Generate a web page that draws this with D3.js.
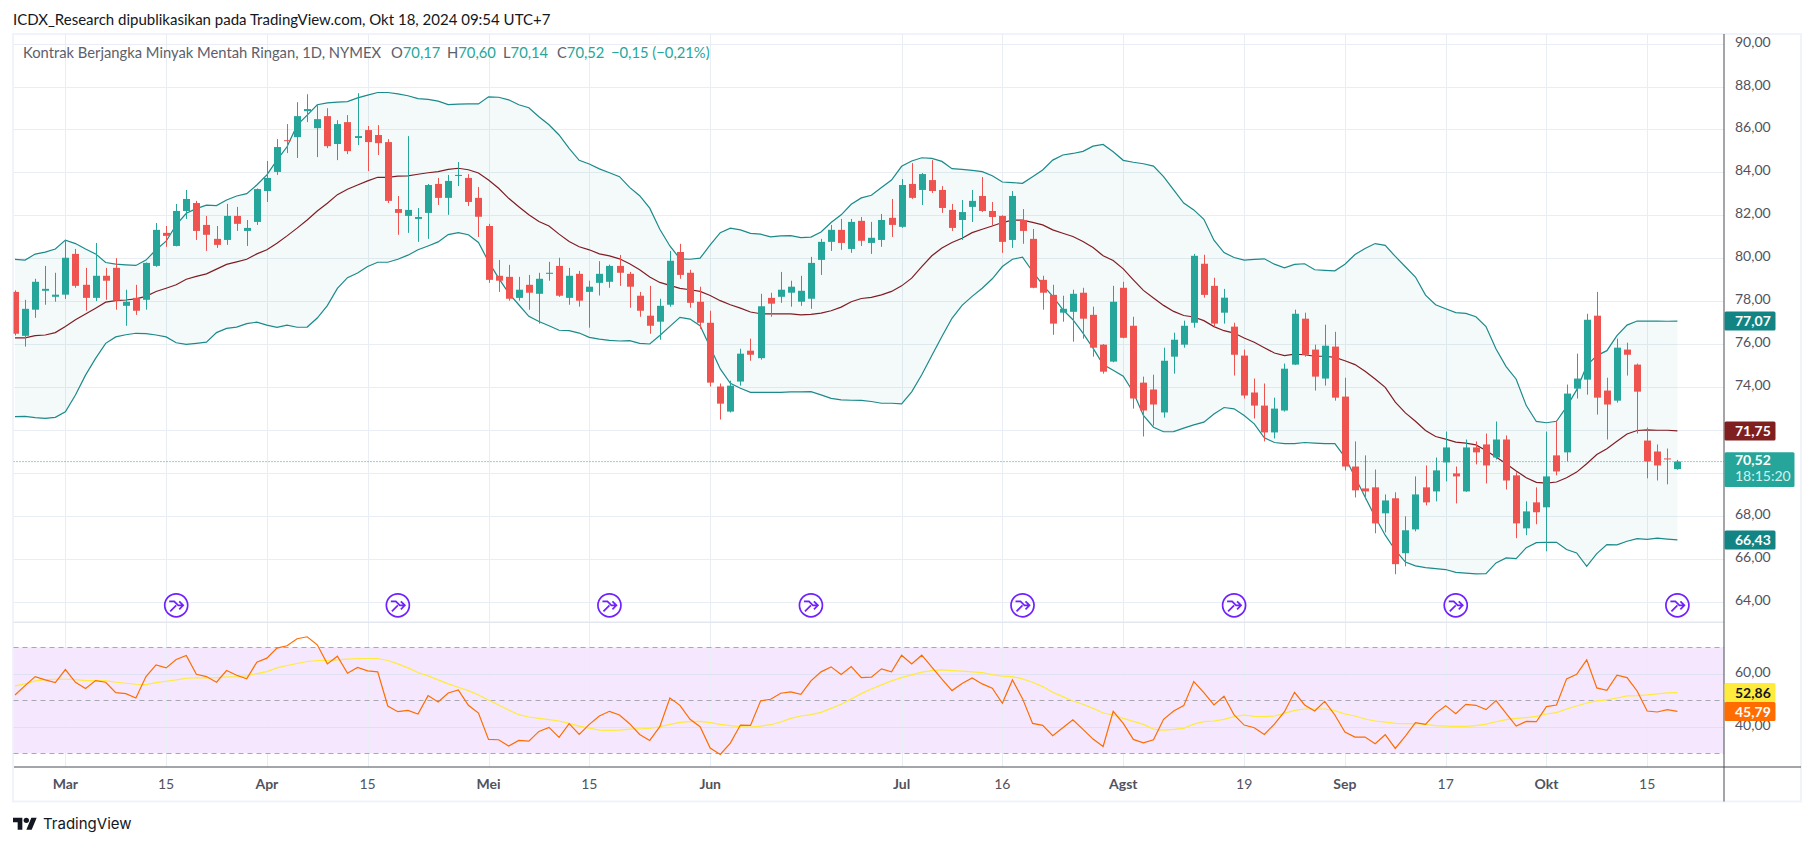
<!DOCTYPE html>
<html lang="id">
<head>
<meta charset="UTF-8">
<title>Kontrak Berjangka Minyak Mentah Ringan</title>
<script src="https://d3js.org/d3.v7.min.js"></script>
<style>
    html, body { margin: 0; background: #fff; }
    svg { display: block; }
    text { font-family: "Lato", "Noto Sans", sans-serif; }
</style>
</head>
<body>
<svg id="chart" width="1814" height="846"></svg>
<script>
// ---------------- data, one entry per daily bar ----------------
var opens = [
    78.43, 76.38, 77.6, 78.48, 78.2, 78.3, 80.2, 78.76, 78.15, 79.18,
    79.55, 77.78, 78.15, 78.06, 79.64, 81.18, 80.57, 82.2, 82.57, 81.55,
    80.9, 80.85, 81.97, 81.27, 81.69, 83.13, 84.02, 85.5, 85.64, 86.85,
    86.06, 86.62, 85.32, 86.34, 85.6, 85.97, 85.74, 85.41, 82.29, 81.97,
    81.83, 82.11, 83.46, 82.81, 83.83, 83.74, 82.81, 81.5, 79.18, 79.13,
    78.15, 78.76, 78.34, 79.27, 79.64, 78.15, 79.27, 78.43, 78.85, 78.9,
    79.64, 79.27, 78.25, 77.32, 77.04, 77.83, 80.29, 79.32, 77.97, 76.99,
    74.02, 72.85, 74.25, 75.69, 75.34, 78.15, 78.2, 78.39, 77.97, 78.11,
    79.92, 80.76, 81.32, 80.43, 81.74, 80.71, 80.85, 81.88, 81.46, 83.46,
    83.18, 83.64, 83.18, 82.25, 81.78, 82.39, 82.9, 82.2, 81.97, 80.85,
    81.78, 80.9, 78.99, 78.29, 77.46, 77.5, 78.39, 77.36, 75.97, 75.18,
    78.62, 76.85, 74.2, 73.88, 72.81, 75.41, 75.97, 76.99, 79.74, 78.71,
    77.46, 76.81, 75.46, 73.74, 73.13, 71.88, 72.9, 75.04, 77.18, 75.74,
    74.39, 75.88, 73.55, 70.29, 69.27, 69.32, 68.11, 68.81, 66.25, 67.36,
    69.32, 69.13, 70.48, 69.97, 69.13, 71.18, 71.32, 70.71, 71.55, 69.88,
    67.41, 68.62, 68.39, 70.81, 70.95, 73.92, 74.34, 77.32, 73.83, 73.36,
    75.74, 75.04, 71.5, 70.99, 70.67, 70.17
];
var closes = [
    76.48, 77.64, 78.9, 78.57, 78.3, 80.02, 78.71, 78.15, 79.18, 78.95,
    78.02, 77.97, 77.55, 79.78, 81.32, 81.04, 82.2, 82.76, 81.27, 81.09,
    80.62, 81.97, 81.6, 81.41, 83.22, 83.74, 85.18, 85.46, 86.62, 86.95,
    86.48, 85.22, 86.25, 84.99, 85.69, 85.41, 85.36, 82.67, 82.11, 82.25,
    81.92, 83.41, 82.81, 83.6, 83.88, 82.62, 81.93, 78.99, 78.95, 78.11,
    78.53, 78.39, 79.04, 79.32, 78.25, 79.18, 78.02, 78.67, 79.27, 79.64,
    79.32, 78.67, 77.55, 76.85, 77.78, 79.88, 79.22, 77.92, 76.99, 74.2,
    73.22, 74.06, 75.55, 75.5, 77.76, 77.88, 78.53, 78.67, 78.48, 79.78,
    80.76, 81.32, 80.71, 81.69, 80.81, 80.95, 81.78, 81.55, 83.41, 82.81,
    83.92, 83.13, 82.34, 81.41, 82.15, 82.67, 82.2, 81.92, 80.76, 82.9,
    81.27, 78.62, 78.39, 76.95, 77.64, 78.34, 77.18, 75.83, 74.71, 77.97,
    76.29, 73.46, 72.9, 73.18, 75.22, 76.2, 76.85, 80.11, 78.29, 76.95,
    78.16, 75.5, 73.6, 73.13, 71.88, 72.99, 74.85, 77.41, 75.5, 74.48,
    75.92, 73.5, 70.29, 69.18, 69.13, 67.64, 68.71, 65.74, 67.32, 68.99,
    68.62, 70.11, 71.18, 69.83, 71.18, 70.95, 70.34, 71.55, 69.64, 67.64,
    68.2, 68.16, 69.83, 70.06, 73.69, 74.39, 77.13, 73.5, 73.18, 75.83,
    75.5, 73.78, 70.53, 70.34, 70.62, 70.52
];
var highs = [
    78.5, 78.06, 79.04, 79.64, 79.32, 80.85, 80.43, 79.55, 80.71, 79.55,
    80.0, 78.53, 78.76, 79.8, 81.64, 81.5, 82.53, 83.18, 82.67, 81.97,
    81.5, 82.53, 82.39, 81.78, 83.25, 84.53, 85.55, 86.25, 87.27, 87.64,
    87.13, 86.99, 86.43, 86.67, 87.69, 86.16, 86.2, 85.55, 82.9, 85.69,
    82.34, 83.46, 83.74, 83.88, 84.48, 83.92, 83.32, 81.6, 79.92, 79.69,
    79.13, 79.22, 79.32, 79.83, 80.02, 79.55, 79.41, 78.95, 79.86, 79.7,
    80.15, 79.36, 78.43, 78.71, 78.11, 80.34, 80.67, 79.46, 78.67, 77.55,
    74.16, 74.29, 75.78, 76.25, 78.34, 78.39, 79.36, 78.95, 79.18, 80.06,
    80.9, 81.55, 81.83, 81.83, 81.92, 81.69, 82.06, 82.76, 83.69, 84.43,
    83.97, 84.57, 83.36, 82.53, 82.71, 83.18, 83.78, 82.62, 82.0, 83.13,
    82.29, 81.36, 79.18, 78.76, 78.25, 78.53, 78.62, 77.74, 76.0, 78.71,
    78.9, 77.27, 74.48, 74.57, 75.83, 76.53, 77.09, 80.2, 80.16, 79.09,
    78.57, 76.99, 75.74, 74.39, 74.16, 73.5, 75.09, 77.6, 77.46, 75.97,
    76.9, 76.57, 74.43, 71.46, 70.81, 70.15, 68.99, 69.09, 67.97, 69.83,
    70.34, 70.71, 71.92, 70.29, 71.55, 71.46, 71.83, 72.39, 71.74, 70.02,
    68.67, 69.32, 71.92, 72.43, 74.11, 75.55, 77.41, 78.43, 74.43, 76.25,
    76.06, 75.09, 72.11, 71.32, 71.13, 70.6
];
var lows = [
    76.4, 75.88, 77.22, 77.83, 77.97, 78.1, 78.62, 77.55, 78.0, 78.06,
    77.6, 76.85, 77.36, 77.6, 79.6, 80.53, 80.55, 81.83, 80.85, 80.34,
    80.48, 80.62, 81.27, 80.57, 81.55, 82.62, 83.88, 84.9, 84.67, 86.34,
    84.71, 85.13, 84.57, 84.85, 85.27, 84.06, 84.81, 82.57, 81.09, 81.18,
    80.76, 80.9, 82.48, 82.02, 83.36, 82.43, 80.99, 78.85, 78.43, 78.02,
    78.02, 77.6, 76.95, 78.95, 78.2, 77.83, 77.74, 76.76, 78.26, 78.62,
    78.71, 77.69, 77.27, 76.48, 76.2, 77.74, 79.04, 77.69, 76.71, 74.02,
    72.48, 72.81, 74.06, 75.22, 75.27, 77.27, 77.92, 77.74, 77.78, 77.64,
    79.22, 80.34, 80.39, 80.25, 80.57, 80.2, 80.53, 80.99, 81.41, 82.76,
    82.48, 83.04, 82.11, 81.27, 80.85, 81.69, 82.15, 81.5, 80.25, 80.48,
    80.67, 78.6, 77.6, 76.43, 77.04, 76.11, 76.25, 75.41, 74.62, 75.15,
    76.27, 72.99, 71.69, 72.2, 72.57, 74.62, 75.83, 76.76, 78.16, 76.81,
    76.95, 74.53, 73.46, 72.53, 71.46, 71.6, 72.85, 75.02, 75.41, 73.83,
    74.06, 73.36, 70.11, 68.85, 68.76, 67.18, 67.22, 65.27, 65.64, 67.27,
    68.48, 68.67, 69.6, 68.57, 69.11, 70.39, 69.5, 70.62, 69.22, 66.95,
    67.09, 67.6, 66.34, 69.88, 70.53, 73.46, 73.64, 72.71, 71.55, 73.27,
    74.53, 71.83, 69.74, 69.64, 69.46, 70.14
];
var bbUpper = [
    79.94, 79.91, 80.19, 80.28, 80.43, 80.84, 80.68, 80.43, 80.2, 79.8,
    79.72, 79.69, 79.66, 79.91, 80.39, 80.79, 81.55, 82.09, 82.31, 82.47,
    82.45, 82.71, 82.9, 83.01, 83.41, 83.88, 84.57, 85.19, 86.2, 86.67,
    87.15, 87.24, 87.27, 87.3, 87.47, 87.6, 87.72, 87.72, 87.66, 87.57,
    87.44, 87.4, 87.32, 87.16, 87.18, 87.19, 87.19, 87.52, 87.5, 87.38,
    87.15, 87.01, 86.59, 86.22, 85.74, 85.12, 84.56, 84.39, 84.16, 83.98,
    83.8, 83.3, 82.91, 82.33, 81.35, 80.57, 79.97, 79.95, 80.0, 80.62,
    81.19, 81.4, 81.32, 81.16, 81.12, 80.99, 81.04, 81.05, 80.96, 80.98,
    81.22, 81.66, 82.02, 82.51, 82.81, 82.93, 83.29, 83.64, 84.28, 84.53,
    84.68, 84.65, 84.51, 84.17, 84.14, 84.09, 84.03, 83.84, 83.55, 83.52,
    83.49, 83.8, 84.11, 84.57, 84.81, 84.88, 84.98, 85.22, 85.3, 84.96,
    84.56, 84.47, 84.4, 84.29, 83.8, 83.18, 82.57, 82.25, 81.81, 80.84,
    80.26, 80.03, 79.91, 79.94, 79.97, 79.72, 79.55, 79.71, 79.74, 79.46,
    79.43, 79.41, 79.72, 80.17, 80.45, 80.68, 80.6, 80.08, 79.6, 79.12,
    78.28, 77.83, 77.64, 77.46, 77.43, 77.27, 76.81, 75.77, 74.95, 74.36,
    73.13, 72.39, 72.33, 72.4, 73.07, 73.86, 74.99, 75.46, 75.69, 76.39,
    76.88, 77.07, 77.07, 77.07, 77.06, 77.07
];
var bbBasis = [
    76.29, 76.29, 76.39, 76.42, 76.53, 76.82, 77.13, 77.4, 77.67, 77.95,
    78.02, 78.05, 78.1, 78.22, 78.45, 78.6, 78.76, 79.02, 79.15, 79.27,
    79.49, 79.71, 79.83, 79.95, 80.2, 80.39, 80.7, 81.04, 81.4, 81.78,
    82.2, 82.56, 82.96, 83.21, 83.41, 83.6, 83.77, 83.77, 83.82, 83.84,
    83.91, 83.98, 84.03, 84.14, 84.19, 84.12, 83.97, 83.64, 83.26, 82.79,
    82.4, 82.02, 81.71, 81.5, 81.12, 80.78, 80.53, 80.39, 80.2, 80.11,
    79.97, 79.74, 79.46, 79.12, 78.87, 78.73, 78.59, 78.53, 78.45, 78.26,
    78.02, 77.83, 77.67, 77.49, 77.41, 77.4, 77.41, 77.4, 77.36, 77.38,
    77.44, 77.55, 77.72, 77.97, 78.12, 78.17, 78.29, 78.45, 78.71, 79.07,
    79.61, 80.11, 80.47, 80.73, 80.93, 81.19, 81.35, 81.5, 81.66, 81.77,
    81.77, 81.67, 81.55, 81.32, 81.16, 81.01, 80.78, 80.5, 80.11, 79.89,
    79.5, 78.99, 78.5, 78.14, 77.8, 77.52, 77.33, 77.26, 77.09, 76.81,
    76.62, 76.51, 76.28, 76.08, 75.83, 75.58, 75.46, 75.53, 75.5, 75.43,
    75.43, 75.38, 75.22, 75.04, 74.73, 74.37, 73.98, 73.29, 72.79, 72.4,
    71.97, 71.69, 71.57, 71.43, 71.38, 71.3, 71.04, 70.73, 70.42, 70.08,
    69.77, 69.55, 69.52, 69.57, 69.77, 70.03, 70.42, 70.85, 71.12, 71.47,
    71.81, 71.97, 72.0, 71.98, 71.98, 71.95
];
var bbLower = [
    72.62, 72.63, 72.57, 72.53, 72.58, 72.84, 73.62, 74.55, 75.33, 76.03,
    76.33, 76.43, 76.5, 76.48, 76.42, 76.33, 76.06, 75.98, 76.03, 76.09,
    76.53, 76.73, 76.79, 76.95, 77.02, 76.88, 76.78, 76.88, 76.78, 76.79,
    77.21, 77.79, 78.59, 79.09, 79.31, 79.61, 79.81, 79.81, 79.95, 80.14,
    80.39, 80.57, 80.76, 81.1, 81.19, 81.09, 80.73, 79.84, 79.07, 78.37,
    77.83, 77.29, 77.05, 76.85, 76.64, 76.62, 76.51, 76.31, 76.23, 76.17,
    76.14, 76.16, 76.03, 76.0, 76.4, 76.82, 77.24, 77.16, 76.85, 75.85,
    74.84, 74.17, 73.94, 73.75, 73.75, 73.75, 73.75, 73.77, 73.77, 73.78,
    73.63, 73.47, 73.4, 73.38, 73.37, 73.32, 73.24, 73.24, 73.21, 73.77,
    74.57, 75.46, 76.35, 77.2, 77.8, 78.22, 78.6, 79.04, 79.61, 79.95,
    80.05, 79.38, 78.76, 78.22, 77.6, 77.13, 76.51, 75.81, 75.04, 74.78,
    74.5, 73.75, 72.67, 72.12, 71.91, 71.92, 72.08, 72.23, 72.36, 72.74,
    73.04, 72.98, 72.67, 72.28, 71.63, 71.41, 71.36, 71.36, 71.41, 71.38,
    71.36, 71.36, 70.73, 69.8, 68.87, 67.94, 67.09, 66.39, 65.84, 65.66,
    65.58, 65.53, 65.49, 65.36, 65.32, 65.29, 65.3, 65.8, 66.03, 66.0,
    66.51, 66.74, 66.76, 66.76, 66.42, 66.26, 65.64, 66.23, 66.65, 66.64,
    66.81, 66.93, 66.9, 66.95, 66.91, 66.87
];
var rsi = [
    52.02, 55.55, 58.96, 57.7, 56.69, 61.61, 56.81, 54.42, 57.44, 56.81,
    52.9, 52.52, 50.88, 58.96, 63.38, 62.24, 65.39, 66.91, 59.84, 58.96,
    56.81, 61.23, 59.46, 58.08, 64.38, 65.9, 69.68, 70.57, 73.22, 73.97,
    70.95, 63.75, 66.66, 60.22, 62.37, 61.1, 60.73, 47.85, 45.71, 46.21,
    44.83, 51.77, 49.37, 52.78, 53.91, 48.11, 45.2, 35.24, 35.11, 32.71,
    34.86, 34.61, 38.26, 39.78, 35.99, 41.17, 37.13, 40.91, 44.07, 45.84,
    44.45, 41.17, 37.13, 34.86, 40.03, 50.88, 48.11, 42.81, 40.03, 31.96,
    29.56, 33.85, 40.66, 40.54, 49.75, 50.38, 52.65, 53.15, 52.27, 57.32,
    60.73, 62.62, 59.72, 62.74, 58.58, 58.71, 61.86, 60.73, 67.03, 63.75,
    67.03, 62.49, 57.95, 53.66, 56.31, 58.45, 56.18, 54.54, 48.86, 57.7,
    50.63, 41.29, 40.54, 36.62, 39.65, 42.68, 39.02, 35.36, 32.59, 45.84,
    41.29, 35.24, 33.97, 35.11, 42.81, 45.96, 47.98, 57.07, 52.9, 48.23,
    51.51, 44.45, 40.66, 39.65, 37.13, 41.04, 45.71, 53.03, 48.23, 45.96,
    49.62, 44.45, 38.01, 36.12, 36.12, 33.6, 37.0, 31.83, 36.5, 41.55,
    40.91, 45.08, 47.98, 44.95, 48.49, 48.11, 46.47, 49.87, 45.08, 40.28,
    42.05, 41.92, 47.6, 48.23, 58.08, 59.84, 65.27, 54.67, 53.79, 59.46,
    58.58, 53.53, 45.96, 45.58, 46.47, 45.79
];
var rsiMa = [
    55.43, 56.18, 57.32, 57.82, 57.95, 57.95, 57.82, 57.44, 57.44, 57.44,
    56.81, 56.44, 56.06, 55.93, 56.69, 57.19, 57.7, 58.33, 58.45, 58.45,
    58.58, 58.83, 58.96, 59.21, 60.09, 60.85, 62.24, 63.12, 63.88, 64.64,
    65.02, 65.02, 65.27, 65.52, 65.77, 65.77, 65.77, 65.02, 63.75, 62.24,
    60.47, 59.21, 57.7, 56.18, 54.92, 53.66, 52.02, 50.13, 48.23, 46.34,
    44.57, 43.69, 43.19, 42.68, 42.18, 41.29, 40.28, 39.53, 38.77, 38.64,
    38.77, 39.15, 39.27, 39.4, 40.03, 40.91, 41.67, 41.92, 42.05, 41.55,
    40.91, 40.41, 40.03, 39.91, 40.28, 40.79, 41.8, 43.19, 44.07, 44.57,
    45.46, 46.97, 48.49, 50.5, 52.52, 54.29, 55.8, 57.32, 58.58, 59.59,
    60.6, 61.23, 61.48, 61.23, 60.98, 60.73, 60.47, 59.72, 59.09, 58.96,
    58.08, 56.81, 55.17, 53.03, 51.39, 49.75, 48.49, 46.97, 45.2, 44.45,
    43.19, 42.05, 40.91, 39.15, 38.77, 39.02, 39.4, 41.04, 41.92, 42.18,
    42.81, 43.82, 44.45, 43.94, 43.82, 44.07, 45.08, 46.21, 46.72, 46.72,
    46.72, 46.09, 44.83, 44.07, 42.93, 42.18, 41.8, 41.29, 41.17, 41.17,
    40.91, 40.41, 40.28, 40.16, 40.16, 40.41, 41.04, 41.92, 42.68, 43.19,
    43.44, 43.94, 44.83, 45.33, 46.72, 47.85, 48.99, 49.75, 50.13, 50.88,
    51.64, 51.77, 52.02, 52.4, 52.78, 52.86
];

var timeTickBars = [5, 15, 25, 35, 47, 57, 69, 88, 98, 110, 122, 132, 142, 152, 162];
var timeTickLabels = ["Mar", "15", "Apr", "15", "Mei", "15", "Jun", "Jul", "16", "Agst", "19", "Sep", "17", "Okt", "15"];
var monthLabels = ["Mar", "Apr", "Mei", "Jun", "Jul", "Agst", "Sep", "Okt"];
var priceTicks = [90, 88, 86, 84, 82, 80, 78, 76, 74, 72, 70, 68, 66, 64];
var priceLabelTicks = [90, 88, 86, 84, 82, 80, 78, 76, 74, 68, 66, 64]; // 72 and 70 sit under the tags
var rsiGridTicks = [60, 40];
var rsiDashTicks = [70, 50, 30];
var rolloverBars = [16, 38, 59, 79, 100, 121, 143, 165];

// ---------------- layout ----------------
var W = 1814, H = 846;
var axisX = 1724, timeY = 767, paneSplit = 622.3;
var left = 13.5, frameRight = 1801, frameTop = 34, frameBottom = 801.5;

var up = "#26a69a", down = "#ef5350", bandCol = "#1b8a8a", basisCol = "#801d24";
var gridCol = "#e8eef3", labelCol = "#50535e";

var svg = d3.select("#chart");
var ru = d => d.toFixed(2).replace(".", ",");

// scales: one bar every 10 px or so, both panes share x
var x = d3.scaleLinear().domain([0, 165]).range([15, 1677.4]);
var y = d3.scaleLinear().domain([64, 90]).range([601.5, 43.6]);
var yR = d3.scaleLinear().domain([30, 70]).range([753.3, 647.3]);

svg.append("clipPath").attr("id", "mainClip").append("rect")
    .attr("x", left).attr("y", frameTop).attr("width", axisX - left).attr("height", paneSplit - frameTop);
svg.append("clipPath").attr("id", "rsiClip").append("rect")
    .attr("x", left).attr("y", paneSplit).attr("width", axisX - left).attr("height", timeY - paneSplit);

// frame
svg.append("rect").attr("x", 13).attr("y", frameTop).attr("width", frameRight - 13).attr("height", frameBottom - frameTop)
    .attr("fill", "none").attr("stroke", "#f0f3fa").attr("stroke-width", 2);

// ---------------- RSI band goes below the grid ----------------
svg.append("rect").attr("x", left).attr("width", axisX - left)
    .attr("y", yR(70)).attr("height", yR(30) - yR(70)).attr("fill", "#f5e7fd");

// ---------------- grid ----------------
var grid = svg.append("g").attr("stroke", gridCol).attr("stroke-width", 1);
grid.selectAll(".v").data(timeTickBars).join("line")
    .attr("x1", d => Math.round(x(d)) + .5).attr("x2", d => Math.round(x(d)) + .5)
    .attr("y1", frameTop).attr("y2", timeY);
grid.selectAll(".h").data(priceTicks).join("line")
    .attr("x1", left).attr("x2", axisX)
    .attr("y1", d => Math.round(y(d)) + .5).attr("y2", d => Math.round(y(d)) + .5);
grid.selectAll(".r").data(rsiGridTicks).join("line")
    .attr("x1", left).attr("x2", axisX).attr("stroke", "#e0e0f3")
    .attr("y1", d => Math.round(yR(d)) + .5).attr("y2", d => Math.round(yR(d)) + .5);
svg.append("line").attr("x1", left).attr("x2", axisX).attr("y1", paneSplit).attr("y2", paneSplit)
    .attr("stroke", "#e4e7ee").attr("stroke-width", 1.5);

svg.selectAll(".dash").data(rsiDashTicks).join("line")
    .attr("x1", left).attr("x2", axisX)
    .attr("y1", d => Math.round(yR(d)) + .5).attr("y2", d => Math.round(yR(d)) + .5)
    .attr("stroke", "#a8a8b2").attr("stroke-width", 1).attr("stroke-dasharray", "5,4");

// ---------------- main pane ----------------
var main = svg.append("g").attr("clip-path", "url(#mainClip)");
var bars = d3.range(closes.length);

// bollinger fill starts at the pane edge
main.append("path")
    .attr("d", d3.area().x(i => x(i)).y0(i => y(bbLower[i])).y1(i => y(bbUpper[i]))(bars))
    .attr("fill", "#26a69a").attr("fill-opacity", 0.05);

// price line
main.append("line").attr("x1", left).attr("x2", axisX)
    .attr("y1", y(closes[165])).attr("y2", y(closes[165]))
    .attr("stroke", up).attr("stroke-width", 1).attr("stroke-dasharray", "1,2");

function drawLine(parent, scaleY, vals, col, w) {
    parent.append("path")
        .attr("d", d3.line().x((d, i) => x(i)).y(d => scaleY(d))(vals))
        .attr("fill", "none").attr("stroke", col).attr("stroke-width", w);
}
drawLine(main, y, bbUpper, bandCol, 1.2);
drawLine(main, y, bbLower, bandCol, 1.2);
drawLine(main, y, bbBasis, basisCol, 1.2);

// candles
var candle = main.selectAll(".candle").data(bars).join("g")
    .attr("fill", i => closes[i] >= opens[i] ? up : down);
candle.append("rect")
    .attr("x", i => Math.round(x(i))).attr("width", 1)
    .attr("y", i => y(highs[i])).attr("height", i => y(lows[i]) - y(highs[i]));
candle.append("rect")
    .attr("x", i => Math.round(x(i)) - 3).attr("width", 7)
    .attr("y", i => y(Math.max(opens[i], closes[i])))
    .attr("height", i => Math.max(1, Math.abs(y(opens[i]) - y(closes[i]))));

// rollover markers
var roll = main.selectAll(".roll").data(rolloverBars).join("g")
    .attr("transform", d => "translate(" + x(d) + ",605.3)")
    .attr("fill", "none").attr("stroke", "#6f22ff").attr("stroke-width", 1.7);
roll.append("circle").attr("r", 11.5);
roll.append("path").attr("d", "M-7,-4 L-2,-4 L2,0 L7,0 M3,-4 L7,0 L3,4 M-6,6 L0,0");

// ---------------- RSI pane ----------------
var pane = svg.append("g").attr("clip-path", "url(#rsiClip)");
drawLine(pane, yR, rsiMa, "#ffeb3b", 1.2);
drawLine(pane, yR, rsi, "#ff6d00", 1.2);

// ---------------- axes ----------------
svg.append("line").attr("x1", 14).attr("x2", frameRight).attr("y1", timeY).attr("y2", timeY)
    .attr("stroke", "#4a4c55").attr("stroke-width", 1);
svg.append("line").attr("x1", axisX).attr("x2", axisX).attr("y1", frameTop).attr("y2", frameBottom)
    .attr("stroke", "#4a4c55").attr("stroke-width", 1);

svg.selectAll(".tl").data(timeTickBars).join("text")
    .attr("x", d => x(d)).attr("y", 789).attr("text-anchor", "middle")
    .attr("font-size", 14).attr("fill", labelCol)
    .attr("font-weight", (d, i) => monthLabels.includes(timeTickLabels[i]) ? 700 : 400)
    .text((d, i) => timeTickLabels[i]);

svg.selectAll(".pl").data(priceLabelTicks).join("text")
    .attr("x", 1735).attr("y", d => y(d) + 3).attr("font-size", 14).attr("fill", labelCol)
    .text(d => ru(d));
svg.selectAll(".rl").data(rsiGridTicks).join("text")
    .attr("x", 1735).attr("y", d => yR(d) + 3).attr("font-size", 14).attr("fill", labelCol)
    .text(d => ru(d));

// value tags on the price scale
function tag(cy, label, bg, fg) {
    svg.append("rect").attr("x", axisX + .5).attr("y", cy - 9.5).attr("width", 51).attr("height", 19).attr("rx", 1.5).attr("fill", bg);
    svg.append("text").attr("x", 1735).attr("y", cy + 5).attr("font-size", 14).attr("font-weight", 700).attr("fill", fg).text(label);
}
var bandTagLabels = ["77,07", "71,75", "66,43"];
var rsiTagLabels = ["52,86", "45,79"];
tag(y(bbUpper[165]), bandTagLabels[0], "#138484", "#fff");
tag(y(bbBasis[165]), bandTagLabels[1], "#801f1f", "#fff");
tag(y(bbLower[165]), bandTagLabels[2], "#138484", "#fff");
tag(692.5, rsiTagLabels[0], "#ffeb3b", "#131722");
tag(711.5, rsiTagLabels[1], "#ff6d00", "#fff");

svg.append("rect").attr("x", axisX + .5).attr("y", 452.3).attr("width", 70).attr("height", 34.7).attr("rx", 1.5).attr("fill", up);
svg.append("text").attr("x", 1735).attr("y", 465).attr("font-size", 14).attr("font-weight", 700).attr("fill", "#fff").text(ru(closes[165]));
svg.append("text").attr("x", 1735).attr("y", 481).attr("font-size", 14).attr("fill", "#d4f0ed").text("18:15:20");

// ---------------- texts ----------------
svg.append("text").attr("x", 13).attr("y", 25).attr("font-size", 15).attr("fill", "#131722")
    .text("ICDX_Research dipublikasikan pada TradingView.com, Okt 18, 2024 09:54 UTC+7");

svg.append("text").attr("x", 23).attr("y", 58).attr("font-size", 14.75).attr("fill", "#5d606b")
    .text("Kontrak Berjangka Minyak Mentah Ringan, 1D, NYMEX");

var ohlcNames = ["O", "H", "L", "C"];
var ohlcVals = ["70,17", "70,60", "70,14", "70,52"];
var ohlcX = [391, 447, 503, 557];
var ohlc = svg.selectAll(".ohlc").data(ohlcNames).join("text")
    .attr("x", (d, i) => ohlcX[i]).attr("y", 58).attr("font-size", 14.75).attr("fill", up);
ohlc.append("tspan").attr("fill", "#5d606b").text(d => d);
ohlc.append("tspan").text((d, i) => ohlcVals[i]);
svg.append("text").attr("x", 611).attr("y", 58).attr("font-size", 14.75).attr("fill", up).text("\u22120,15 (\u22120,21%)");

// TradingView mark
var logo = svg.append("g").attr("transform", "translate(13,815) scale(.667)").attr("fill", "#131722");
logo.append("path").attr("d", "M14 22H7V11H0V4h14v18zM28 22h-8l7.5-18h8L28 22z");
logo.append("circle").attr("cx", 20).attr("cy", 8).attr("r", 4);
svg.append("text").attr("x", 43).attr("y", 829).attr("font-size", 15).attr("fill", "#131722")
    .style("font-family", "Inter, sans-serif").text("TradingView");
</script>
</body>
</html>
